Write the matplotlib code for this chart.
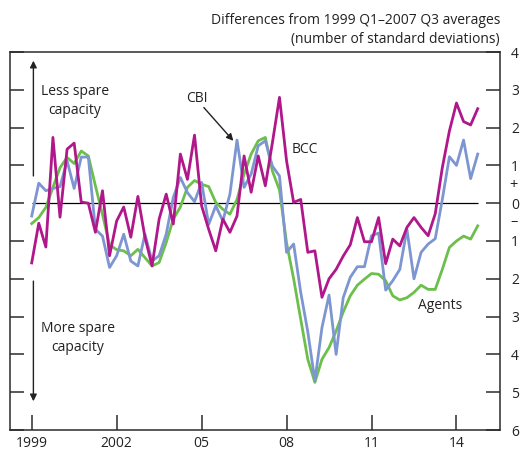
import numpy as np
import matplotlib
matplotlib.use('Agg')
import matplotlib.pyplot as plt

plt.rcParams['font.family'] = ['Open Sans', 'DejaVu Sans']

# quarterly, 1999 Q1 onwards
start_year = 1999
bcc = [-1.58, -0.53, -1.16, 1.74, -0.37, 1.43, 1.59, 0.03,
       0.0, -0.77, 0.33, -1.39, -0.47, -0.1, -0.9, 0.18,
       -0.9, -1.66, -0.42, 0.24, -0.55, 1.3, 0.63, 1.8,
       -0.07, -0.69, -1.26, -0.42, -0.77, -0.34, 1.25, 0.29,
       1.25, 0.46, 1.6, 2.8, 1.12, 0.02, 0.1, -1.3,
       -1.26, -2.49, -2.0, -1.75, -1.4, -1.1, -0.38, -1.02,
       -1.02, -0.38, -1.6, -0.95, -1.13, -0.64, -0.38, -0.64,
       -0.86, -0.28, 0.94, 1.91, 2.65, 2.16, 2.07, 2.5]
cbi = [-0.34, 0.53, 0.33, 0.39, 0.44, 1.12, 0.39, 1.22,
       1.22, -0.69, -0.87, -1.7, -1.39, -0.82, -1.53, -1.66,
       -0.82, -1.53, -1.39, -0.82, 0.15, 0.68, 0.28, 0.04,
       0.55, -0.56, -0.07, -0.47, 0.24, 1.67, 0.42, 0.77,
       1.52, 1.65, 0.98, 0.72, -1.3, -1.08, -2.36, -3.4,
       -4.7, -3.29, -2.43, -4.0, -2.5, -1.96, -1.68, -1.68,
       -0.86, -0.79, -2.3, -2.05, -1.75, -0.69, -2.0, -1.3,
       -1.08, -0.94, 0.1, 1.23, 1.0, 1.67, 0.65, 1.3]
agents = [-0.54, -0.38, -0.11, 0.42, 0.94, 1.21, 1.05, 1.38,
          1.25, 0.46, -0.3, -1.1, -1.23, -1.26, -1.39, -1.22,
          -1.44, -1.66, -1.57, -1.04, -0.42, -0.1, 0.42, 0.6,
          0.5, 0.44, 0.02, -0.16, -0.29, 0.1, 0.77, 1.3,
          1.65, 1.74, 0.85, 0.35, -1.05, -2.0, -3.07, -4.13,
          -4.74, -4.13, -3.82, -3.38, -2.88, -2.45, -2.17, -2.01,
          -1.86, -1.88, -2.05, -2.45, -2.56, -2.5, -2.36, -2.17,
          -2.28, -2.28, -1.75, -1.17, -1.0, -0.87, -0.95, -0.6]

xtick_years = [1999, 2002, 2005, 2008, 2011, 2014]
xtick_labels = ['1999', '2002', '05', '08', '11', '14']
ytick_vals = list(range(-6, 5))

t = start_year + np.arange(len(bcc)) / 4.0

fig = plt.figure(figsize=(5.22, 4.5), dpi=100)
ax = fig.add_axes([10 / 522, 1 - 430 / 450, 490 / 522, 378 / 450])

dark = '#2b2b2b'
txt = '#222222'
fs = 10

ax.hlines(0, t[0], t[-1], color='black', lw=0.9, zorder=1)
ax.plot(t, agents, color='#6dbf4b', lw=2.0, zorder=2)
ax.plot(t, cbi, color='#7d95d1', lw=2.0, zorder=3)
ax.plot(t, bcc, color='#b0178a', lw=2.0, zorder=4)

ax.set_xlim(1998.234, 2015.537)
ax.set_ylim(-6, 4)

for s in ax.spines.values():
    s.set_color(dark)
    s.set_linewidth(1.1)

ax.set_xticks(xtick_years)
ax.set_xticklabels(xtick_labels)
ax.set_yticks(ytick_vals)
ax.set_yticklabels([str(abs(v)) for v in ytick_vals])
ax.tick_params(axis='x', direction='in', length=11, width=1.1, color=dark,
               labelsize=fs, labelcolor=txt, pad=4, top=False)
ax.tick_params(axis='y', direction='in', length=10, width=1.1, color=dark,
               left=True, right=True, labelleft=False, labelright=True,
               labelsize=fs, labelcolor=txt, pad=8)

# plus / minus signs around zero on the right
ax.text(1.0 + 14 / 490, 0.48, '+', transform=ax.get_yaxis_transform(),
        ha='center', va='center', fontsize=fs + 0.5, color=txt)
ax.text(1.0 + 14 / 490, -0.48, '\u2013', transform=ax.get_yaxis_transform(),
        ha='center', va='center', fontsize=fs + 0.5, color=txt)

fig.text(500 / 522, 1 - 20 / 450, 'Differences from 1999 Q1\u20132007 Q3 averages',
         ha='right', va='center', fontsize=fs, color=txt)
fig.text(500 / 522, 1 - 40 / 450, '(number of standard deviations)',
         ha='right', va='center', fontsize=fs, color=txt)

# direction arrows and labels
arrow = dict(arrowstyle='-|>', color=txt, lw=1.0, mutation_scale=10,
             shrinkA=0, shrinkB=0)
ax.annotate('', xy=(1999.06, 3.77), xytext=(1999.06, 0.72), arrowprops=arrow)
ax.annotate('', xy=(1999.06, -5.24), xytext=(1999.06, -2.06), arrowprops=arrow)
ax.text(2000.53, 2.70, 'Less spare\ncapacity', ha='center', va='center',
        fontsize=fs, color=txt, linespacing=1.4)
ax.text(2000.63, -3.56, 'More spare\ncapacity', ha='center', va='center',
        fontsize=fs, color=txt, linespacing=1.4)

ax.text(2004.82, 2.78, 'CBI', ha='center', va='center', fontsize=fs, color=txt)
ax.annotate('', xy=(2006.12, 1.65), xytext=(2005.08, 2.53), arrowprops=arrow)
ax.text(2008.65, 1.43, 'BCC', ha='center', va='center', fontsize=fs, color=txt)
ax.text(2013.43, -2.70, 'Agents', ha='center', va='center', fontsize=fs, color=txt)

fig.savefig('out.png', dpi=100)
